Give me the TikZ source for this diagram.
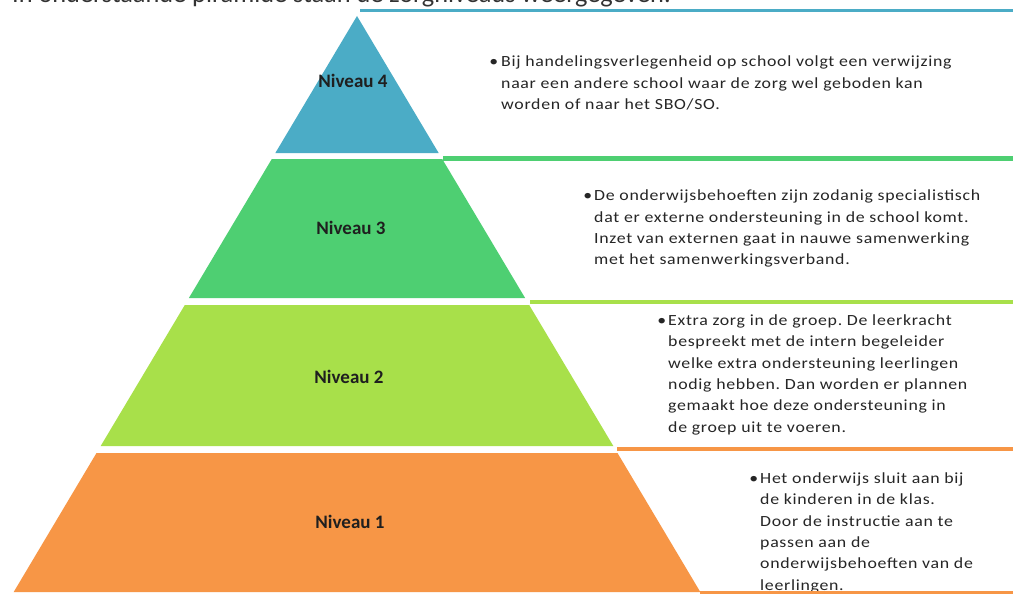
\documentclass[tikz,border=0pt]{standalone}
\usepackage{fontspec}
\setmainfont{Carlito}
\newfontfamily\descfont[LetterSpace=4.5,FakeStretch=1.15]{Carlito}
\definecolor{lvfour}{HTML}{4BACC6}
\definecolor{lvthree}{HTML}{4ECF72}
\definecolor{lvtwo}{HTML}{A8E04A}
\definecolor{lvone}{HTML}{F79646}
\definecolor{txt}{HTML}{262626}
\begin{document}
\frenchspacing
\begin{tikzpicture}[x=1pt,y=-1pt,
  lvlabel/.style={font=\fontsize{19}{22}\selectfont\bfseries, text=black!88, inner sep=0},
  desc/.style={anchor=north west, inner sep=0, align=left, text=txt, font=\descfont\fontsize{15.5}{21.4}\selectfont},
  bandline/.style={line width=4pt}
]
\useasboundingbox (0,0) rectangle (1013,594);
\fill[white] (0,0) rectangle (1013,594);
% header (cut off at top, as in the reference)
\node[anchor=base west, inner sep=0, text=black!80, font=\fontsize{26.3}{30}\selectfont] (head) at (12,2.5) {In onderstaande piramide staan de zorgniveaus weergegeven.};
% pyramid segments
\fill[lvfour] (357,16) -- (438.65,153) -- (275.35,153) -- cycle;
\fill[lvthree] (271.8,159) -- (442.2,159) -- (525.1,298) -- (188.9,298) -- cycle;
\fill[lvtwo] (184.8,305) -- (529.2,305) -- (613.3,446) -- (100.7,446) -- cycle;
\fill[lvone] (96.5,453) -- (617.5,453) -- (700.3,592) -- (13.7,592) -- cycle;
% labels
\node[lvlabel] (n4) at (353,81) {Niveau 4};
\node[lvlabel] (n3) at (351,228) {Niveau 3};
\node[lvlabel] (n2) at (349,377) {Niveau 2};
\node[lvlabel] (n1) at (350,522) {Niveau 1};
% descriptions
\node[desc] (d4) at (501,54.5) {\rule{0pt}{12pt}\llap{\textbullet\hspace{3pt}}Bij handelingsverlegenheid op school volgt een verwijzing\\naar een andere school waar de zorg wel geboden kan\\worden of naar het SBO/SO.};
\node[desc] (d3) at (594,188.5) {\rule{0pt}{12pt}\llap{\textbullet\hspace{2pt}}De onderwijsbehoeften zijn zodanig specialistisch\\dat er externe ondersteuning in de school komt.\\Inzet van externen gaat in nauwe samenwerking\\met het samenwerkingsverband.};
\node[desc] (d2) at (668,313) {\rule{0pt}{12pt}\llap{\textbullet\hspace{2pt}}Extra zorg in de groep. De leerkracht\\bespreekt met de intern begeleider\\welke extra ondersteuning leerlingen\\nodig hebben. Dan worden er plannen\\gemaakt hoe deze ondersteuning in\\de groep uit te voeren.};
\node[desc] (d1) at (760,471) {\rule{0pt}{12pt}\llap{\textbullet\hspace{2pt}}Het onderwijs sluit aan bij\\de kinderen in de klas.\\Door de instructie aan te\\passen aan de\\onderwijsbehoeften van de\\leerlingen.};
% band lines
\draw[lvfour, line width=3pt] (360,11) -- (1013,11);
\draw[lvthree, bandline, line width=4.5pt] (443,158.5) -- (1013,158.5);
\draw[lvtwo, bandline] (530,301.5) -- (1013,301.5);
\draw[lvone, bandline] (617,449) -- (1013,449);
\draw[lvone, line width=3pt] (700,592.5) -- (1013,592.5);
\end{tikzpicture}
\end{document}
